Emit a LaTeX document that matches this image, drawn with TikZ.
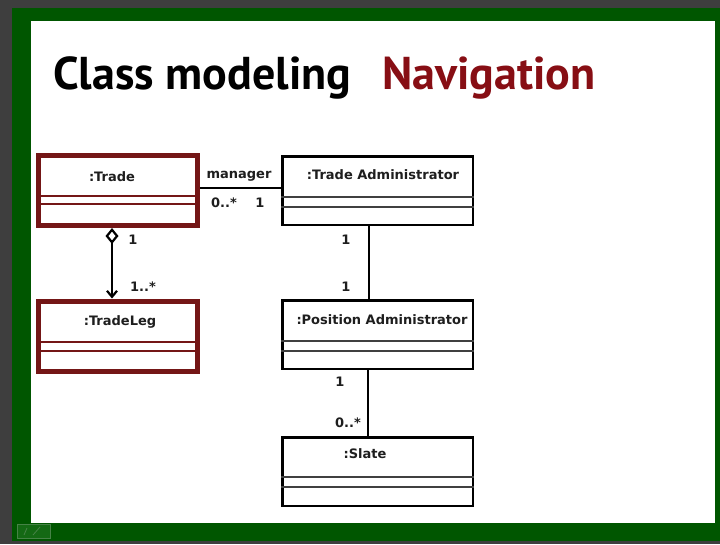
\documentclass[tikz,border=0pt]{standalone}
\usepackage{fontspec}
\usetikzlibrary{arrows.meta}
\newfontfamily\titlefont{PT Sans}
\newfontfamily\umlfont{DejaVu Sans}

\definecolor{framegray}{RGB}{62,62,62}
\definecolor{framegreen}{RGB}{0,86,0}
\definecolor{iconstroke}{RGB}{70,130,70}
\definecolor{iconfill}{RGB}{20,105,20}
\definecolor{boxred}{RGB}{116,22,22}
\definecolor{titlered}{RGB}{135,14,20}
\definecolor{textgray}{RGB}{30,30,30}

\tikzset{
  redclass/.style={draw=boxred, line width=5pt, rectangle, inner sep=0pt,
    minimum width=159pt, minimum height=70pt},
  blackclass/.style={draw=black, line width=2.5pt, rectangle, inner sep=0pt,
    minimum width=190.5pt, minimum height=68.5pt},
  redsep/.style={draw=boxred, line width=2.2pt},
  blacksep/.style={draw=black!75, line width=1.3pt},
  cname/.style={font=\umlfont\bfseries\fontsize{13}{15}\selectfont,
    text=textgray, inner sep=0pt},
  mult/.style={font=\umlfont\bfseries\fontsize{13}{15}\selectfont,
    text=textgray, inner sep=0pt},
  assoc/.style={draw=black, line width=2.2pt},
  titletext/.style={font=\titlefont\bfseries\fontsize{46}{50}\selectfont,
    inner sep=0pt, anchor=base west},
}

\begin{document}
\begin{tikzpicture}[x=1pt, y=-1pt]
  \useasboundingbox (0,0) rectangle (720,544);

  % slide frame
  \fill[framegray] (0,0) rectangle (720,544);
  \fill[framegreen] (12,8) rectangle (720,541);
  \fill[white] (31,21) rectangle (715,523);
  \draw[iconstroke, fill=iconfill, line width=0.6pt] (17,524) rectangle (50,538);
  \draw[iconstroke, line width=0.8pt] (24,535) -- (27,528) (33,535) -- (40,527);

  % heading
  \node[titletext, text=black] (titleA) at (53,89) {Class modeling};
  \node[titletext, text=titlered] (titleB) at (382,89) {Navigation};

  % classes
  \node[redclass] (trade) at (118,190.5) {};
  \draw[redsep] (trade.west |- 0,196) -- (trade.east |- 0,196);
  \draw[redsep] (trade.west |- 0,204) -- (trade.east |- 0,204);
  \node[cname] (tradeName) at (112,177) {:Trade};

  \node[redclass] (leg) at (118,336) {};
  \draw[redsep] (leg.west |- 0,342) -- (leg.east |- 0,342);
  \draw[redsep] (leg.west |- 0,351) -- (leg.east |- 0,351);
  \node[cname] (legName) at (120,322) {:TradeLeg};

  \node[blackclass] (tadmin) at (377.5,190.5) {};
  \draw[blacksep] (tadmin.west |- 0,197) -- (tadmin.east |- 0,197);
  \draw[blacksep] (tadmin.west |- 0,207) -- (tadmin.east |- 0,207);
  \node[cname] (tadminName) at (383,175) {:Trade Administrator};

  \node[blackclass] (padmin) at (377.5,334.5) {};
  \draw[blacksep] (padmin.west |- 0,341) -- (padmin.east |- 0,341);
  \draw[blacksep] (padmin.west |- 0,351) -- (padmin.east |- 0,351);
  \node[cname] (padminName) at (382,320) {:Position Administrator};

  \node[blackclass] (slate) at (377.5,471.5) {};
  \draw[blacksep] (slate.west |- 0,477) -- (slate.east |- 0,477);
  \draw[blacksep] (slate.west |- 0,487) -- (slate.east |- 0,487);
  \node[cname] (slateName) at (365,454) {:Slate};

  % associations
  \draw[assoc] ([yshift=2.5pt]trade.east) -- ([yshift=2.5pt]tadmin.west);
  \draw[assoc, {Diamond[open, length=16pt, width=13pt, line width=2.2pt]}-{Straight Barb[length=6pt, width=10pt]}]
    ([xshift=-6pt]trade.south) -- ([xshift=-6pt]leg.north);
  \draw[assoc] ([xshift=-8.5pt]tadmin.south) -- ([xshift=-8.5pt]padmin.north);
  \draw[assoc] ([xshift=-9.5pt]padmin.south) -- ([xshift=-9.5pt]slate.north);

  % roles and multiplicities
  \node[mult] (mgr) at (239,176) {manager};
  \node[mult] (mTradeMgr) at (224,203) {0..*};
  \node[mult] (mAdminMgr) at (260,203) {1};
  \node[mult] (mTradeAgg) at (133,240) {1};
  \node[mult] (mLegAgg) at (143,287) {1..*};
  \node[mult] (mTadminTop) at (346,240) {1};
  \node[mult] (mPadminTop) at (346,287) {1};
  \node[mult] (mPadminBot) at (340,382) {1};
  \node[mult] (mSlate) at (348,423) {0..*};
\end{tikzpicture}
\end{document}
